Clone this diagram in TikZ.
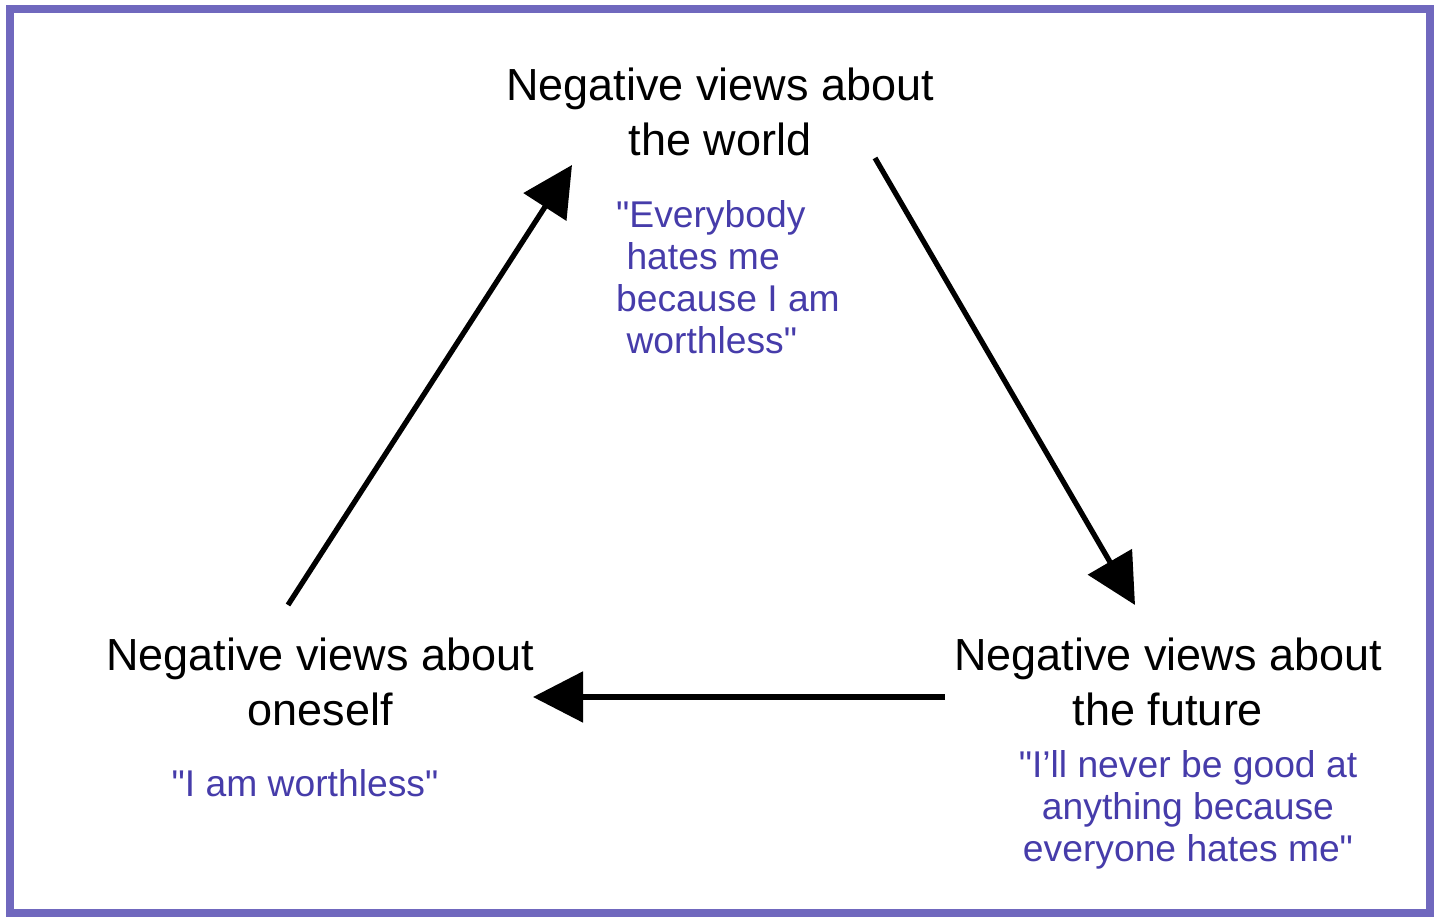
\documentclass[tikz,border=0pt]{standalone}
\usepackage{fontspec}
\setmainfont{Liberation Sans}
\usetikzlibrary{arrows.meta,positioning}
\definecolor{framepurple}{RGB}{112,104,190}
\definecolor{quotepurple}{RGB}{70,60,170}
\tikzset{
  title/.style={align=center, font=\fontsize{12.8}{15.6}\selectfont, inner sep=0pt},
  quote/.style={align=center, text=quotepurple, font=\fontsize{10.6}{12}\selectfont, inner sep=0pt},
  cycle/.style={line width=1.5pt, -{Triangle[length=0.5cm,width=0.5cm]}}
}
\begin{document}
\begin{tikzpicture}
\useasboundingbox (0,0) rectangle (14.4,9.21);
\draw [framepurple, line width=2pt] (0.1,0.08) rectangle (14.3,9.12);
% corners of the triangle
\node [title] (world) at (7.2,8.09) {Negative views about\\the world};
\node [quote, align=left] (worldq) at (7.28,6.44) {\textquotedbl Everybody\\\ hates me\\because I am\\\ worthless\textquotedbl};
\node [title] (self) at (3.2,2.39) {Negative views about\\oneself};
\node [quote] (selfq) at (3.05,1.38) {\textquotedbl I am worthless\textquotedbl};
\node [title] (future) at (11.68,2.39) {Negative views about\\the future};
\node [quote] (futureq) at (11.88,1.11) {\textquotedbl I'll never be good at\\anything because\\everyone hates me\textquotedbl};
% arrows
\coordinate (a1) at (2.88,3.16); \coordinate (a2) at (5.72,7.56);
\coordinate (b1) at (8.75,7.63); \coordinate (b2) at (11.35,3.16);
\coordinate (c1) at (9.45,2.24); \coordinate (c2) at (5.33,2.24);
\draw [cycle] (a1) -- (a2);
\draw [cycle] (b1) -- (b2);
\draw [cycle] (c1) -- (c2);
\end{tikzpicture}
\end{document}
